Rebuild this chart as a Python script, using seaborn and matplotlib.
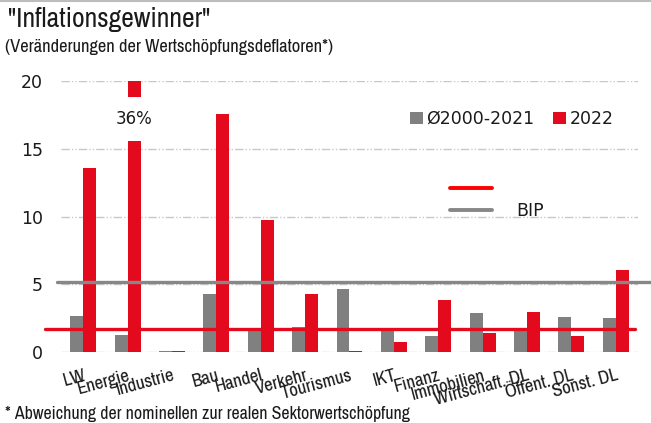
import numpy as np
import pandas as pd
import matplotlib
matplotlib.use("Agg")
import matplotlib.pyplot as plt
from matplotlib.lines import Line2D
from matplotlib.patches import Patch, Rectangle
from matplotlib import font_manager
import seaborn as sns

# data
sectors = ["LW", "Energie", "Industrie", "Bau", "Handel", "Verkehr", "Tourismus",
           "IKT", "Finanz", "Immobilien", "Wirtschaft. DL", "Öffent. DL", "Sonst. DL"]
avg_2000_2021 = [2.66, 1.25, 0.1, 4.26, 1.6, 1.82, 4.63, 1.6, 1.18, 2.85, 1.6, 2.56, 2.49]
val_2022 = [13.6, 36.0, 0.1, 17.6, 9.74, 4.26, 0.08, 0.76, 3.84, 1.43, 2.95, 1.18, 6.05]
series_names = ["Ø2000-2021", "2022"]
bip_lines = [5.14, 1.67]          # grey / red horizontal reference lines
energie_break = (15.6, 18.8)      # axis break drawn into the Energie bar
energie_label = "36%"

RED = "#e30a1e"
GREY = "#808080"

sns.set_theme(style="white")
# look for a condensed face, the original uses a narrow font
narrow_fonts = sorted({(f.name, f.stretch) for f in font_manager.fontManager.ttflist
                       if ("Narrow" in f.name or "Condensed" in f.name
                           or f.stretch in ("condensed", "semi-condensed", 400))})
if narrow_fonts:
    NARROW = dict(family=narrow_fonts[0][0], stretch=narrow_fonts[0][1])
else:
    NARROW = dict(family="DejaVu Sans", stretch="condensed")
plt.rcParams["font.family"] = ["DejaVu Sans"]
plt.rcParams["text.color"] = "#1a1a1a"

df = pd.DataFrame({
    "Sektor": sectors * 2,
    "Serie": [series_names[0]] * len(sectors) + [series_names[1]] * len(sectors),
    "Wert": avg_2000_2021 + val_2022,
})

fig = plt.figure(figsize=(6.51, 4.23), dpi=100)
ax = fig.add_axes([0.0937, 0.1678, 0.8863, 0.6407])

sns.barplot(data=df, x="Sektor", y="Wert", hue="Serie", order=sectors,
            hue_order=series_names, palette=[GREY, RED], saturation=1,
            width=0.585, gap=0, linewidth=0, ax=ax, legend=False, zorder=2)

ax.set_ylim(0, 20)
ax.set_xlim(-0.5, len(sectors) - 0.5)
ax.set_yticks([0, 5, 10, 15, 20])
ax.yaxis.grid(True, color="#c8c8c8", linewidth=1.0, linestyle=(0, (6, 1.5, 1, 1.5, 1, 1.5)))
ax.set_axisbelow(True)
for s in ax.spines.values():
    s.set_visible(False)
ax.set_xlabel("")
ax.set_ylabel("")
ax.tick_params(axis="y", length=0, pad=13, labelsize=12.5, labelcolor="#1a1a1a")
ax.tick_params(axis="x", length=0, pad=11)
ax.set_xticks(range(len(sectors)))
ax.set_xticklabels(sectors, rotation=15, ha="right", rotation_mode="anchor",
                   fontsize=13.5, color="#1a1a1a", **NARROW)

# BIP reference lines (extend past the plot area like in the original)
ax.axhline(bip_lines[0], xmin=-0.007, xmax=1.03, color="#878787", lw=2.4,
           clip_on=False, zorder=3)
ax.axhline(bip_lines[1], xmin=-0.028, xmax=0.995, color=RED, lw=2.4,
           clip_on=False, zorder=3)

# axis break in the Energie 2022 bar
red_bars = [p for p in ax.patches if isinstance(p, Rectangle)][len(sectors):2 * len(sectors)]
eb = red_bars[sectors.index("Energie")]
ax.add_patch(Rectangle((eb.get_x() - 0.01, energie_break[0]), eb.get_width() + 0.02,
                       energie_break[1] - energie_break[0], facecolor="white",
                       edgecolor="none", zorder=2.5))
ax.text(eb.get_x() + eb.get_width() / 2, sum(energie_break) / 2, energie_label,
        ha="center", va="center", fontsize=12, zorder=4)

# legends
bar_handles = [Patch(facecolor=GREY, edgecolor="none"), Patch(facecolor=RED, edgecolor="none")]
leg1 = ax.legend(bar_handles, series_names, ncol=2, frameon=False, fontsize=12.5,
                 loc="center left", bbox_to_anchor=(0.592, 0.86),
                 handlelength=0.75, handleheight=0.75, handletextpad=0.2,
                 columnspacing=1.1, borderaxespad=0)
ax.add_artist(leg1)
line_handles = [Line2D([], [], color="#ff0000", lw=2.8), Line2D([], [], color="#878787", lw=2.8)]
ax.legend(line_handles, ["", "BIP"], frameon=False, fontsize=12.5,
          loc="center left", bbox_to_anchor=(0.663, 0.56), handlelength=2.4,
          handletextpad=1.4, labelspacing=0.2, borderaxespad=0)

# titles and footnote
fig.text(0.012, 0.955, '"Inflationsgewinner"', fontsize=20, va="center", ha="left", **NARROW)
fig.text(0.008, 0.888, "(Veränderungen der Wertschöpfungsdeflatoren*)", fontsize=13.3,
         va="center", ha="left", **NARROW)
fig.text(0.008, 0.022, "* Abweichung der nominellen zur realen Sektorwertschöpfung",
         fontsize=12.9, va="center", ha="left", **NARROW)
fig.add_artist(Line2D([0, 1], [0.998, 0.998], color="#bdbdbd", lw=1.5,
                      transform=fig.transFigure))

fig.savefig("out.png", dpi=100)
